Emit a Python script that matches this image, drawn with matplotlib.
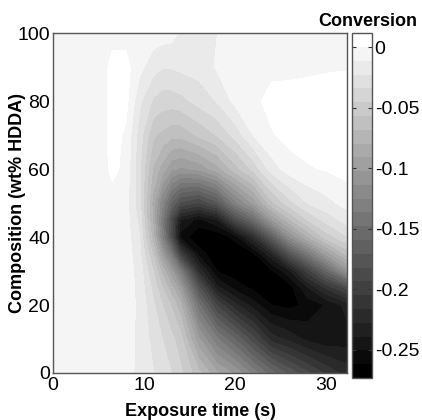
import numpy as np
import matplotlib.pyplot as plt

plt.rcParams['font.family'] = ['Liberation Sans', 'DejaVu Sans']
plt.rcParams['axes.unicode_minus'] = False

# exposure time (s) and composition (wt% HDDA) of the grid
time = [0, 5.5, 6.5, 8, 9.5, 11, 12, 13, 14, 16, 18, 20, 22, 24, 26, 28, 30, 32.3]
comp = [0, 10, 20, 25, 30, 35, 40, 45, 50, 60, 70, 80, 90, 100]

# conversion, one list per exposure time, composition 0 -> 100
conv_t00 = [-0.004] * 14
conv_t055 = [-0.004] * 14
conv_t065 = [-0.004, -0.004, -0.004, -0.004, -0.004, -0.004, -0.004, -0.004, -0.005, 0.003, 0.005, 0.005, 0.004, -0.004]
conv_t08 = [-0.006, -0.005, -0.005, -0.005, -0.005, -0.005, -0.006, -0.006, -0.007, -0.003, -0.002, 0.004, 0.004, -0.004]
conv_t095 = [-0.015, -0.015, -0.014, -0.015, -0.016, -0.019, -0.022, -0.026, -0.03, -0.032, -0.028, -0.02, -0.008, -0.004]
conv_t11 = [-0.022, -0.026, -0.032, -0.037, -0.045, -0.058, -0.075, -0.082, -0.085, -0.07, -0.055, -0.036, -0.018, -0.005]
conv_t12 = [-0.029, -0.034, -0.045, -0.056, -0.072, -0.1, -0.13, -0.135, -0.125, -0.085, -0.06, -0.04, -0.022, -0.006]
conv_t13 = [-0.034, -0.042, -0.058, -0.075, -0.1, -0.14, -0.185, -0.19, -0.16, -0.1, -0.065, -0.04, -0.022, -0.007]
conv_t14 = [-0.043, -0.052, -0.076, -0.1, -0.135, -0.2, -0.255, -0.24, -0.185, -0.105, -0.065, -0.038, -0.02, -0.013]
conv_t16 = [-0.065, -0.1, -0.145, -0.178, -0.22, -0.255, -0.272, -0.255, -0.195, -0.1, -0.055, -0.03, -0.018, -0.013]
conv_t18 = [-0.09, -0.135, -0.195, -0.235, -0.262, -0.272, -0.272, -0.24, -0.175, -0.085, -0.045, -0.022, -0.01, -0.0115]
conv_t20 = [-0.105, -0.16, -0.225, -0.255, -0.27, -0.273, -0.258, -0.19, -0.13, -0.062, -0.03, -0.008, -0.005, -0.004]
conv_t22 = [-0.13, -0.19, -0.245, -0.265, -0.273, -0.265, -0.22, -0.155, -0.1, -0.042, -0.011, -0.003, -0.004, -0.004]
conv_t24 = [-0.155, -0.222, -0.262, -0.272, -0.265, -0.23, -0.17, -0.105, -0.06, -0.017, -0.001, 0.004, -0.003, -0.004]
conv_t26 = [-0.175, -0.232, -0.266, -0.268, -0.24, -0.18, -0.115, -0.07, -0.038, -0.005, 0.004, 0.005, -0.003, -0.004]
conv_t28 = [-0.192, -0.243, -0.258, -0.24, -0.2, -0.14, -0.08, -0.045, -0.022, -0.001, 0.005, 0.005, -0.002, -0.004]
conv_t30 = [-0.208, -0.248, -0.25, -0.215, -0.16, -0.1, -0.052, -0.03, -0.015, 0.001, 0.005, 0.005, -0.001, -0.004]
conv_t323 = [-0.222, -0.245, -0.235, -0.19, -0.11, -0.065, -0.035, -0.018, -0.007, 0.004, 0.005, 0.005, -0.0005, -0.004]

Z = np.array([conv_t00, conv_t055, conv_t065, conv_t08, conv_t095, conv_t11, conv_t12,
              conv_t13, conv_t14, conv_t16, conv_t18, conv_t20, conv_t22, conv_t24,
              conv_t26, conv_t28, conv_t30, conv_t323]).T

levels = np.linspace(-0.2735, 0.0115, 26)
colors = plt.cm.gray(np.linspace(0, 1, len(levels) - 1))

fig = plt.figure(figsize=(4.22, 4.20), dpi=100)
ax = fig.add_axes([0.1256, 0.112, 0.697, 0.809])
cs = ax.contourf(time, comp, Z, levels=levels, colors=colors)

ax.set_xlim(0, 32.3)
ax.set_ylim(0, 100)
ax.set_xticks([0, 10, 20, 30])
ax.set_yticks([0, 20, 40, 60, 80, 100])
ax.tick_params(length=0, labelsize=14)
ax.tick_params(axis='x', pad=3)
ax.tick_params(axis='y', pad=2)
for s in ax.spines.values():
    s.set_color('#555555')
    s.set_linewidth(1.0)
ax.set_xlabel('Exposure time (s)', fontsize=13, fontweight='bold')
ax.set_ylabel('Composition (wt% HDDA)', fontsize=13, fontweight='bold')
ax.xaxis.set_label_coords(0.5, -0.088)
ax.yaxis.set_label_coords(-0.092, 0.5)

cax = fig.add_axes([0.834, 0.1, 0.0474, 0.821])
cb = fig.colorbar(cs, cax=cax)
cb.set_ticks([0, -0.05, -0.1, -0.15, -0.2, -0.25])
cb.set_ticklabels(['0', '-0.05', '-0.1', '-0.15', '-0.2', '-0.25'])
cax.tick_params(direction='in', left=True, right=True, length=3, width=0.8,
                labelsize=14, color='#333333', pad=2)
cb.outline.set_edgecolor('#555555')
cb.outline.set_linewidth(1.0)
fig.text(0.872, 0.95, 'Conversion', fontsize=13, fontweight='bold', ha='center', va='center')

fig.savefig('out.png', dpi=100)
